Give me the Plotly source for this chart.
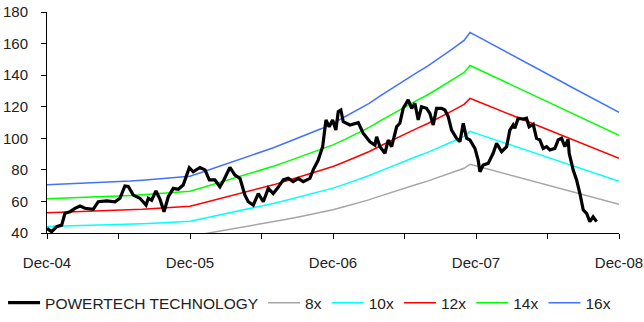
import plotly.graph_objects as go

# ---- data ----
# x values are months since Dec-04
TICK_VALS = [0, 6, 12, 18, 24, 30, 36, 42, 48]
TICK_TEXT = ["Dec-04", "", "Dec-05", "", "Dec-06", "", "Dec-07", "", "Dec-08"]

EPS_MONTHS = [0, 1, 2, 3, 4, 5, 6, 7, 8, 9, 10, 11, 12, 13, 14, 15, 16, 17, 18,
              19, 20, 21, 22, 23, 24, 25, 26, 27, 28, 29, 30, 31, 32, 33, 34, 35,
              35.5, 36, 37, 38, 39, 40, 41, 42, 43, 44, 45, 46, 47, 48]
EPS = [4.406, 4.425, 4.438, 4.456, 4.481, 4.500, 4.525, 4.556, 4.588, 4.625,
       4.663, 4.700, 4.750, 4.906, 5.063, 5.219, 5.375, 5.531, 5.688, 5.875,
       6.063, 6.250, 6.438, 6.625, 6.844, 7.094, 7.344, 7.625, 7.938, 8.250,
       8.563, 8.844, 9.125, 9.438, 9.781, 10.125, 10.438, 10.313, 10.063, 9.813,
       9.550, 9.300, 9.044, 8.788, 8.538, 8.281, 8.031, 7.781, 7.531, 7.281]

MULTIPLES = [8, 10, 12, 14, 16]
BAND_NAMES = ["8x", "10x", "12x", "14x", "16x"]

PRICE_MONTHS = [0.0, 0.39, 0.81, 1.23, 1.51, 1.93, 2.35, 2.77, 3.19, 3.88, 4.30,
                5.01, 5.70, 6.12, 6.54, 6.82, 7.24, 7.80, 8.31, 8.50, 8.78, 9.14,
                9.48, 9.82, 10.18, 10.60, 11.02, 11.43, 11.94, 12.27, 12.84, 13.26,
                13.62, 14.09, 14.51, 14.85, 15.35, 15.77, 16.19, 16.61, 16.89, 17.31,
                17.73, 18.15, 18.57, 18.98, 19.40, 19.82, 20.24, 20.66, 21.08, 21.50,
                22.06, 22.34, 22.76, 23.13, 23.41, 23.68, 23.97, 24.24, 24.44, 24.66,
                24.86, 25.42, 26.12, 26.53, 27.10, 27.52, 27.66, 27.94, 28.36, 28.63,
                28.92, 29.34, 29.61, 29.89, 30.31, 30.60, 30.87, 31.15, 31.43, 31.85,
                32.13, 32.41, 32.69, 33.11, 33.39, 33.67, 33.95, 34.37, 34.65, 34.93,
                35.21, 35.49, 35.91, 36.18, 36.33, 36.60, 37.02, 37.44, 37.73, 38.15,
                38.57, 38.84, 39.12, 39.26, 39.54, 39.96, 40.24, 40.46, 40.80, 41.08,
                41.36, 41.64, 41.92, 42.20, 42.62, 42.90, 43.18, 43.46, 43.73, 43.82,
                44.15, 44.44, 44.72, 45.00, 45.28, 45.55, 45.83, 46.12]
PRICE = [42.9, 40.8, 44.0, 45.0, 52.5, 53.5, 55.6, 57.1, 55.7, 55.0, 59.8,
         60.3, 59.8, 62.0, 69.8, 69.5, 64.0, 62.0, 57.7, 62.0, 60.8, 66.6,
         61.4, 53.5, 63.0, 68.3, 67.7, 70.4, 81.4, 78.8, 81.5, 80.0,
         73.6, 73.6, 69.3, 73.7, 81.5, 76.7, 74.6, 64.0, 59.8, 57.7,
         65.0, 59.8, 68.3, 65.0, 68.9, 73.6, 74.6, 72.5, 74.6, 72.5,
         74.6, 80.0, 86.2, 94.7, 111.6, 107.3, 111.6, 105.2, 116.8, 117.9,
         110.5, 108.4, 109.9, 103.2, 97.8, 95.7, 101.0, 94.7, 90.5, 98.9,
         94.7, 107.3, 109.5, 119.0, 124.3, 119.0, 122.2, 111.6, 120.0, 119.0,
         115.8, 108.4, 119.0, 119.0, 117.9, 113.7, 105.2, 100.0, 97.8, 109.5,
         100.0, 98.9, 93.6, 86.2, 78.8, 83.1, 84.1, 90.5, 96.8, 91.5,
         94.7, 105.2, 108.4, 106.3, 112.7, 112.2, 112.7, 107.3, 108.9, 100.0,
         99.0, 93.6, 94.7, 92.6, 93.6, 98.9, 100.0, 94.7, 99.3, 90.5,
         80.0, 73.6, 65.0, 54.6, 52.5, 47.2, 50.3, 47.2]

PRICE_NAME = "POWERTECH TECHNOLOGY"

# ---- styles ----
BAND_COLORS = ["#A6A6A6", "#00FFFF", "#FF0000", "#00FF00", "#4472FF"]
FONT = "Liberation Sans, Arial, sans-serif"

fig = go.Figure()
for i, (mult, name, col) in enumerate(zip(MULTIPLES, BAND_NAMES, BAND_COLORS)):
    fig.add_trace(go.Scatter(
        x=EPS_MONTHS, y=[mult * e for e in EPS], mode="lines", name=name,
        line=dict(color=col, width=1.5), legendrank=2 + i))

fig.add_trace(go.Scatter(
    x=PRICE_MONTHS, y=PRICE, mode="lines", name=PRICE_NAME,
    line=dict(color="black", width=3.2), legendrank=1))

fig.update_layout(
    width=644, height=322,
    margin=dict(l=47, r=25, t=12, b=89, autoexpand=False),
    paper_bgcolor="white", plot_bgcolor="white",
    font=dict(family=FONT, size=15, color="#222"),
    showlegend=True,
    legend=dict(orientation="h", xref="paper", yref="paper",
                x=-0.0768, xanchor="left", y=-0.317, yanchor="middle",
                font=dict(size=15.5), itemwidth=32, tracegroupgap=0,
                borderwidth=0),
)
fig.update_xaxes(range=[0, 48], tickmode="array", tickvals=TICK_VALS, ticktext=TICK_TEXT,
                 showline=True, linecolor="black", linewidth=1,
                 ticks="outside", ticklen=5, tickcolor="black",
                 showgrid=False, zeroline=False, ticklabelstandoff=11)
fig.update_yaxes(range=[40, 180], dtick=20, tick0=40,
                 showline=True, linecolor="black", linewidth=1,
                 ticks="outside", ticklen=5, tickcolor="black",
                 showgrid=False, zeroline=False, ticklabelstandoff=10)

fig.write_html("out.html")
